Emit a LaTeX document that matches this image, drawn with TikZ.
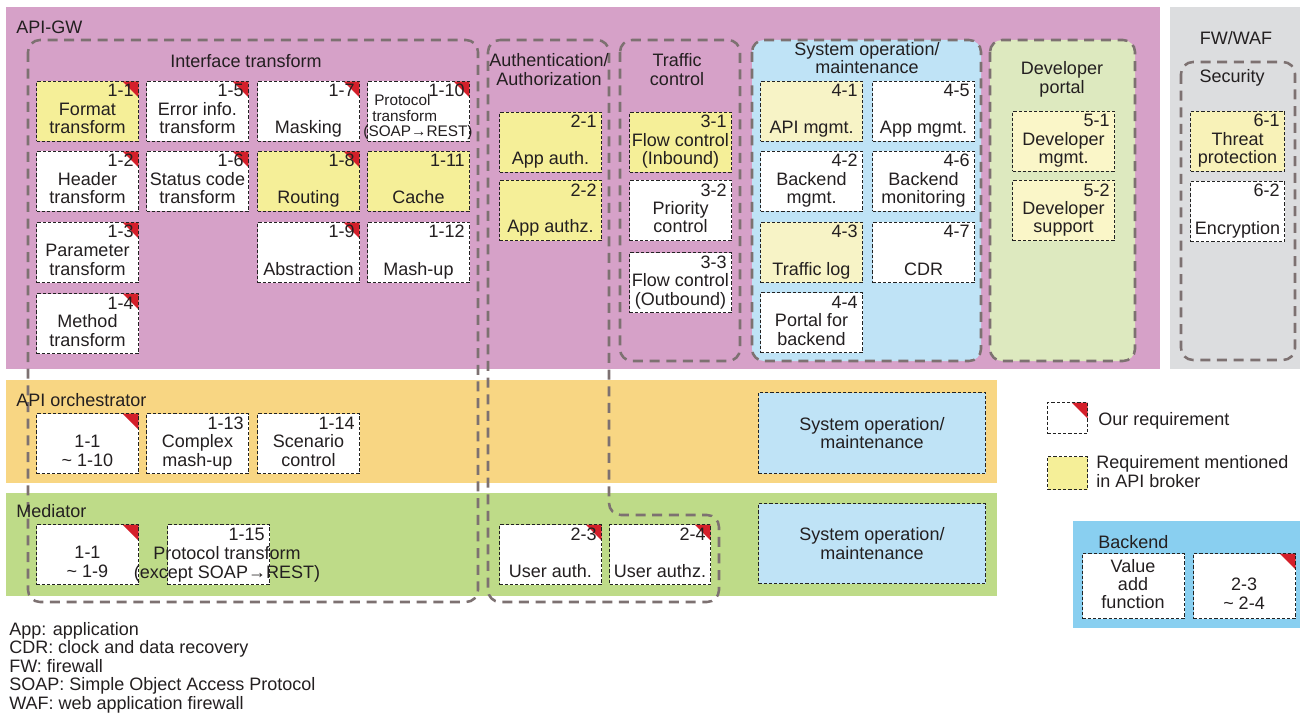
\documentclass[tikz,border=0pt]{standalone}
\usepackage{fontspec}
\setmainfont{Liberation Sans}
\definecolor{pinkc}{HTML}{D6A1C8}
\definecolor{grayc}{HTML}{DCDDDF}
\definecolor{orangec}{HTML}{F8D683}
\definecolor{greenc}{HTML}{BEDB88}
\definecolor{bluec}{HTML}{89CFF0}
\definecolor{sysopc}{HTML}{BFE3F6}
\definecolor{devc}{HTML}{DDE9BF}
\definecolor{yela}{HTML}{F5EF98}
\definecolor{yelb}{HTML}{F7F3C6}
\definecolor{yelc}{HTML}{FAF6C8}
\definecolor{yeld}{HTML}{F8F2B8}
\definecolor{redc}{HTML}{D41F2A}
\definecolor{grpc}{HTML}{7D7171}
\definecolor{txtc}{HTML}{231F20}
\definecolor{boxline}{HTML}{222222}
\newcommand\fs{\fontsize{13.5pt}{13.9pt}\selectfont}
\newcommand\fss{\fontsize{11.5pt}{11.7pt}\selectfont}
\newcommand\reqbox[7][]{%
  \node[rbox,#1] (#2) at (#3,#4) {};
  \node[txt,anchor=base east] (#2-n) at ([xshift=-3.75pt,yshift=-12pt]#2.north east) {#5};
  \node[txt] (#2-a) at ([yshift=-25.9pt]#2.north) {#6};
  \node[txt] (#2-b) at ([yshift=-39.75pt]#2.north) {#7};
}
\begin{document}
\begin{tikzpicture}[x=0.75pt,y=-0.75pt,
  txt/.style={font=\fs,text=txtc,inner sep=0pt,anchor=base},
  rbox/.style={draw=boxline,line width=0.75pt,dash pattern=on 2.4pt off 1.5pt,
    fill=white,minimum width=76.5pt,minimum height=45pt,anchor=north west,
    inner sep=0pt,font=\fs,text=txtc,align=center},
  yA/.style={fill=yela},
  yB/.style={fill=yelb},
  yC/.style={fill=yelc},
  yD/.style={fill=yeld},
  redcorner/.style={path picture={\fill[redc] (path picture bounding box.north east)
    -- ++(-12pt,0) -- ++(12pt,-12pt) -- cycle;}},
  grp/.style={draw=grpc,line width=1.9pt,dash pattern=on 7.5pt off 5pt,rounded corners=9pt},
  band/.style={inner sep=0pt,anchor=north west}
]
\useasboundingbox (0,0) rectangle (1303,713);

% background bands
\fill[pinkc] (6,7) rectangle (1160,369);
\fill[grayc] (1170,7) rectangle (1300,369);
\fill[orangec] (6,380) rectangle (997,483);
\fill[greenc] (6,493) rectangle (997,596);
\fill[bluec] (1073,521) rectangle (1300,628);

% group outlines
\draw[grp,fill=sysopc] (752,40) rectangle (981,361);
\draw[grp,fill=devc] (990,40) rectangle (1135,361);
\draw[grp] (28,40) rectangle (478,602);
\draw[grp] (488,40) -- (609,40) -- (609,515) -- (719,515) -- (719,602) -- (488,602) -- cycle;
\draw[grp] (620,40) rectangle (740,361);
\draw[grp] (1181,62) rectangle (1295,360);

% titles
\node[txt,anchor=base west] (lapi) at (16,33.5) {API-GW};
\node[txt] (lif) at (246,68) {Interface transform};
\node[txt] (lau1) at (549,67) {Authentication/};
\node[txt] (lau2) at (549,86) {Authorization};
\node[txt] (ltc1) at (677,67) {Traffic};
\node[txt] (ltc2) at (677,86) {control};
\node[txt] (lso1) at (867,56) {System operation/};
\node[txt] (lso2) at (867,74) {maintenance};
\node[txt] (ldp1) at (1062,75) {Developer};
\node[txt] (ldp2) at (1062,94) {portal};
\node[txt] (lfw) at (1236,45) {FW/WAF};
\node[txt] (lsec) at (1232,83) {Security};
\node[txt,anchor=base west] (lorch) at (16,406) {API orchestrator};
\node[txt,anchor=base west] (lmed) at (16,517) {Mediator};
\node[txt,anchor=base west] (lbk) at (1098,548) {Backend};

% interface transform
\reqbox[yA,redcorner]{b11}{36}{81}{1-1}{Format}{transform}
\reqbox[redcorner]{b15}{146}{81}{1-5}{Error info.}{transform}
\reqbox[redcorner]{b17}{257}{81}{1-7}{}{Masking}
\reqbox[redcorner]{b110}{367}{81}{1-10}{}{}
\node[txt,font=\fss,anchor=base west] (b110-c) at (374,106) {Protocol};
\node[txt,font=\fss,anchor=base west] (b110-d) at (372,121.5) {transform};
\node[txt,font=\fss] (b110-e) at (418,137) {(SOAP→REST)};
\reqbox[redcorner]{b12}{36}{151}{1-2}{Header}{transform}
\reqbox[redcorner]{b16}{146}{151}{1-6}{Status code}{transform}
\reqbox[yA,redcorner]{b18}{257}{151}{1-8}{}{Routing}
\reqbox[yA]{b111}{367}{151}{1-11}{}{Cache}
\reqbox[redcorner]{b13}{36}{222}{1-3}{Parameter}{transform}
\reqbox[redcorner]{b19}{257}{222}{1-9}{}{Abstraction}
\reqbox{b112}{367}{222}{1-12}{}{Mash-up}
\reqbox[redcorner]{b14}{36}{293}{1-4}{Method}{transform}

% auth
\reqbox[yA]{a21}{499}{112}{2-1}{}{App auth.}
\reqbox[yA]{a22}{499}{180}{2-2}{}{App authz.}
% traffic
\reqbox[yA]{t31}{629}{112}{3-1}{Flow control}{(Inbound)}
\reqbox{t32}{629}{180}{3-2}{Priority}{control}
\reqbox{t33}{629}{252}{3-3}{Flow control}{(Outbound)}
% system operation
\reqbox[yB]{s41}{760}{81}{4-1}{}{API mgmt.}
\reqbox{s45}{872}{81}{4-5}{}{App mgmt.}
\reqbox{s42}{760}{151}{4-2}{Backend}{mgmt.}
\reqbox{s46}{872}{151}{4-6}{Backend}{monitoring}
\reqbox[yB]{s43}{760}{222}{4-3}{}{Traffic log}
\reqbox{s47}{872}{222}{4-7}{}{CDR}
\reqbox{s44}{760}{292}{4-4}{Portal for}{backend}
% developer portal
\reqbox[yC]{d51}{1012}{111}{5-1}{Developer}{mgmt.}
\reqbox[yC]{d52}{1012}{180}{5-2}{Developer}{support}
% security
\reqbox[yD,minimum width=70.5pt]{f61}{1190}{111}{6-1}{Threat}{protection}
\reqbox[minimum width=70.5pt]{f62}{1190}{181}{6-2}{}{Encryption}

% orchestrator
\reqbox[redcorner]{o1}{36}{413}{}{1-1}{\textasciitilde\ 1-10}
\reqbox{o13}{146}{413}{1-13}{Complex}{mash-up}
\reqbox{o14}{257}{413}{1-14}{Scenario}{control}
\node[rbox,fill=sysopc,minimum width=170.25pt,minimum height=60.75pt] (osys) at (758,392) {System operation/\\maintenance};

% mediator
\reqbox[redcorner]{m1}{36}{524}{}{1-1}{\textasciitilde\ 1-9}
\reqbox{m115}{167}{524}{1-15}{}{}
\node[txt] (m115-c) at (227,559) {Protocol transform};
\node[txt] (m115-d) at (227,578) {(except SOAP→REST)};
\reqbox[redcorner]{u23}{499}{524}{2-3}{}{User auth.}
\reqbox[redcorner,minimum width=75.75pt]{u24}{609}{524}{2-4}{}{User authz.}
\node[rbox,fill=sysopc,minimum width=170.25pt,minimum height=60pt] (msys) at (758,503) {System operation/\\maintenance};

% backend
\node[rbox,minimum height=48.75pt] (v1) at (1082,553) {};
\node[txt] (v1-a) at (1133,572) {Value};
\node[txt] (v1-b) at (1133,590) {add};
\node[txt] (v1-c) at (1133,608) {function};
\node[rbox,redcorner,minimum height=48.75pt] (v2) at (1193,553) {};
\node[txt] (v2-a) at (1244,590) {2-3};
\node[txt] (v2-b) at (1244,609) {\textasciitilde\ 2-4};

% legend
\node[rbox,redcorner,minimum width=30pt,minimum height=23.25pt] (lg1) at (1047,402) {};
\node[txt,anchor=base west] (lg1t) at (1098,425) {Our requirement};
\node[rbox,fill=yela,minimum width=30pt,minimum height=24.75pt] (lg2) at (1047,456) {};
\node[txt,anchor=base west] (lg2t) at (1096,468) {Requirement mentioned};
\node[txt,anchor=base west] (lg2u) at (1096,487) {in API broker};

% footnotes
\node[txt,anchor=base west] (fn1) at (9,635) {App: application};
\node[txt,anchor=base west] (fn2) at (9,653.5) {CDR: clock and data recovery};
\node[txt,anchor=base west] (fn3) at (9,672) {FW: firewall};
\node[txt,anchor=base west] (fn4) at (9,690.5) {SOAP: Simple Object Access Protocol};
\node[txt,anchor=base west] (fn5) at (9,709) {WAF: web application firewall};
\end{tikzpicture}
\end{document}
